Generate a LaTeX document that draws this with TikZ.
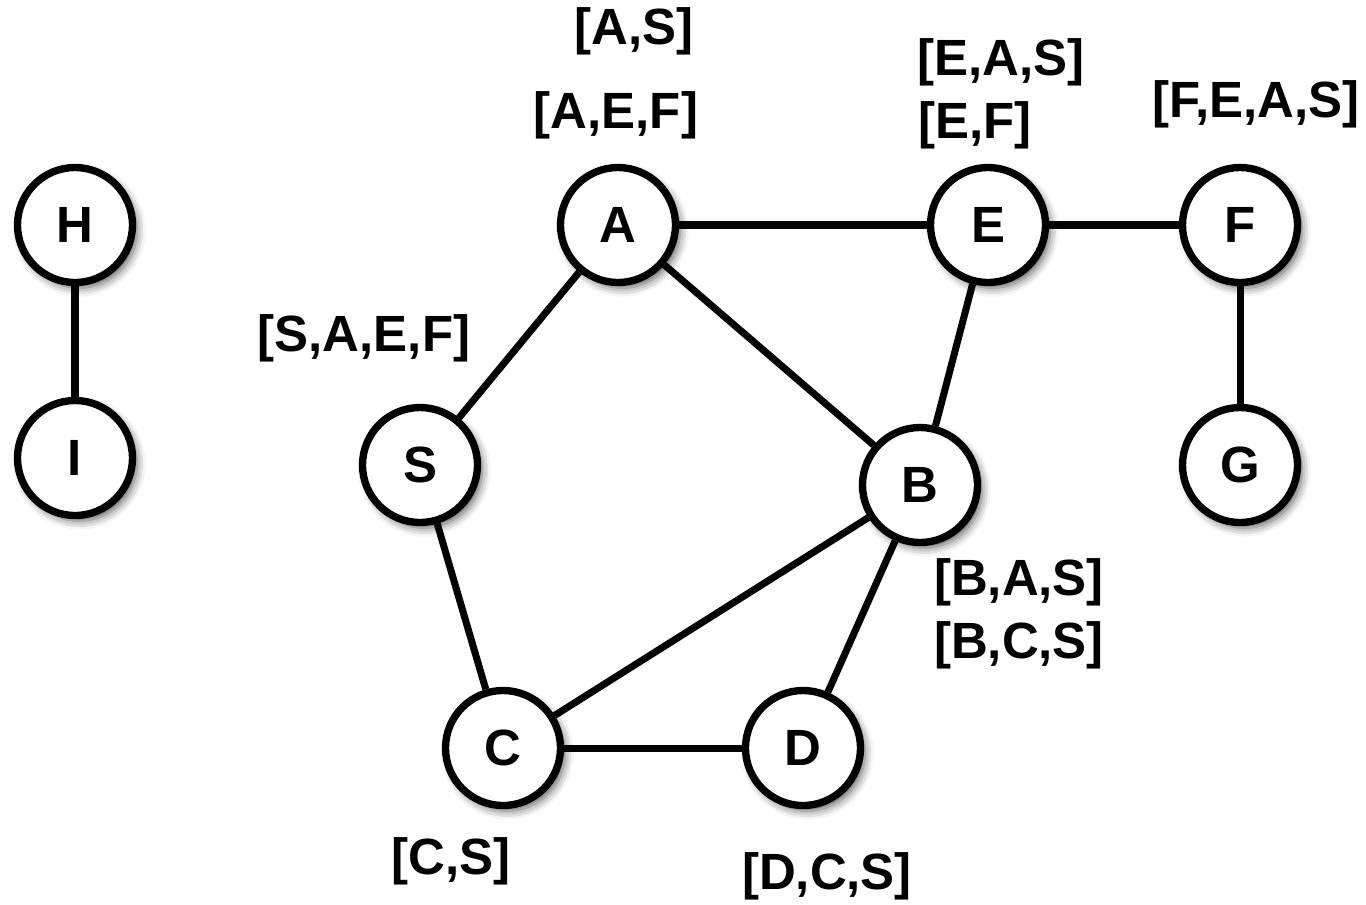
\documentclass[tikz,border=0pt]{standalone}
\usepackage{fontspec}
\setmainfont{Liberation Sans}
\usetikzlibrary{shadows.blur}

\begin{document}
\begin{tikzpicture}[x=0.02cm, y=-0.02cm,
        vertex/.style={circle, draw, line width=4.2pt, fill=white, minimum size=2.3cm, inner sep=0pt,
            font=\fontsize{29}{33}\selectfont\bfseries,
            blur shadow={shadow xshift=2.5pt, shadow yshift=-3pt, shadow blur radius=5pt, shadow opacity=65}},
        trail/.style={font=\fontsize{29}{33}\selectfont\bfseries, inner sep=0pt},
        link/.style={line width=4pt}]
    \useasboundingbox (0, 0) rectangle (1366, 904);

    % vertices
    \node[vertex] (H) at (75, 225) {H};
    \node[vertex] (I) at (75, 458) {I};
    \node[vertex] (A) at (618, 225) {A};
    \node[vertex] (E) at (988, 225) {E};
    \node[vertex] (F) at (1240, 225) {F};
    \node[vertex] (G) at (1240, 465) {G};
    \node[vertex] (S) at (420, 465) {S};
    \node[vertex] (B) at (920, 485) {B};
    \node[vertex] (C) at (503, 748) {C};
    \node[vertex] (D) at (803, 748) {D};

    % edges
    \foreach \u/\v in {H/I, A/E, E/F, F/G, A/S, A/B, E/B, S/C, B/C, B/D, C/D}
        \draw[link] (\u) -- (\v);

    % paths found
    \node[trail] (pAS) at (634, 31) {[A,S]};
    \node[trail] (pAEF) at (616, 115) {[A,E,F]};
    \node[trail] (pEAS) at (1001, 62) {[E,A,S]};
    \node[trail, anchor=west] (pEF) at (918, 125) {[E,F]};
    \node[trail] (pFEAS) at (1256, 104) {[F,E,A,S]};
    \node[trail] (pSAEF) at (364, 338) {[S,A,E,F]};
    \node[trail] (pBAS) at (1019, 582) {[B,A,S]};
    \node[trail] (pBCS) at (1019, 645) {[B,C,S]};
    \node[trail] (pCS) at (451, 861) {[C,S]};
    \node[trail] (pDCS) at (827, 876) {[D,C,S]};
\end{tikzpicture}
\end{document}
